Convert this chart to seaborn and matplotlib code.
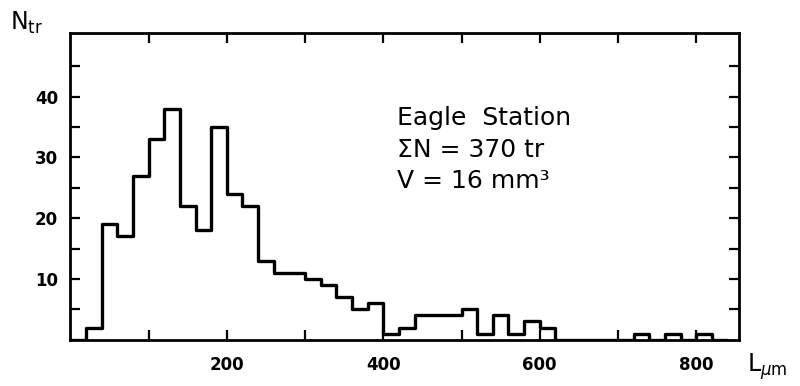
import matplotlib.pyplot as plt
import numpy as np
import pandas as pd
import seaborn as sns

sns.set_style("ticks")
plt.rcParams['font.family'] = ['DejaVu Sans']
plt.rcParams.update({"text.color": "black", "xtick.color": "black",
                     "ytick.color": "black", "axes.labelcolor": "black"})

# track length bins (left edges, um) and number of tracks per bin
bin_left = list(range(0, 840, 20))
n_tracks = [0, 2, 19, 17, 27, 33, 38, 22, 18, 35,
            24, 22, 13, 11, 11, 10, 9, 7, 5, 6,
            1, 2, 4, 4, 4, 5, 1, 4, 1, 3,
            2, 0, 0, 0, 0, 0, 1, 0, 1, 0,
            1, 0]
bin_width = 20
x_ticks = [100, 200, 300, 400, 500, 600, 700, 800]
x_labels = ["", "200", "", "400", "", "600", "", "800"]
y_ticks = [5, 10, 15, 20, 25, 30, 35, 40, 45]
y_labels = ["", "10", "", "20", "", "30", "", "40", ""]
info_lines = ["Eagle  Station", "ΣN = 370 tr", "V = 16 mm³"]

df = pd.DataFrame({"L": np.array(bin_left) + bin_width / 2, "N": n_tracks})
edges = list(bin_left) + [bin_left[-1] + bin_width]

fig = plt.figure(figsize=(8, 3.86), dpi=100)
ax = fig.add_axes([0.088, 0.12, 0.836, 0.795])

sns.histplot(data=df, x="L", weights="N", bins=edges, element="step",
             fill=False, color="black", linewidth=2.4, ax=ax)

ax.set_xlim(0, 855)
ax.set_ylim(0, 50.5)
ax.set_xticks(x_ticks)
ax.set_xticklabels(x_labels, fontsize=12, fontweight="bold")
ax.set_yticks(y_ticks)
ax.set_yticklabels(y_labels, fontsize=12, fontweight="bold")
ax.tick_params(direction="in", length=7, width=1.6, top=True, right=True,
               colors="black")
ax.tick_params(axis="x", pad=12)
ax.tick_params(axis="y", pad=9)
ax.set_xlabel("")
ax.set_ylabel("")
for s in ax.spines.values():
    s.set_linewidth(2)
    s.set_color("black")

for line, yb in zip(info_lines, [35.3, 30.0, 24.9]):
    ax.text(418, yb, line, fontsize=18, va="baseline", ha="left", color="black")

fig.text(0.012, 0.922, r"N$_{\mathrm{tr}}$", fontsize=17, va="baseline", color="black")
fig.text(0.934, 0.036, r"L$_{\mu\mathrm{m}}$", fontsize=17, va="baseline", color="black")

fig.savefig("out.png", dpi=100)
